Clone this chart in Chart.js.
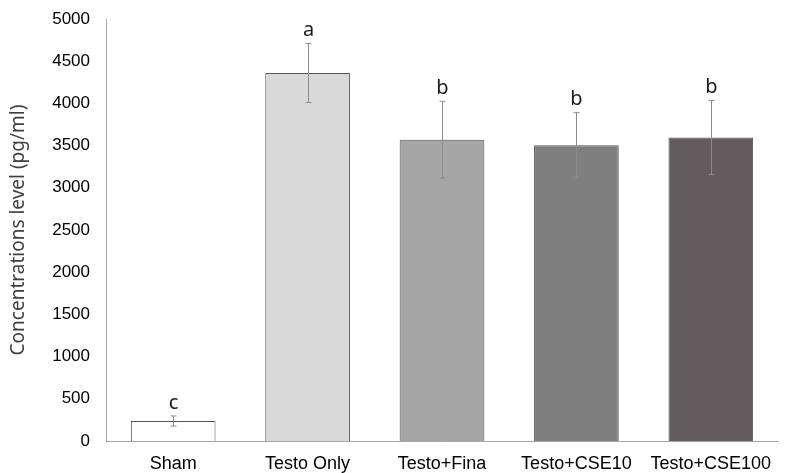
<!DOCTYPE html>
<html>
<head>
<meta charset="utf-8">
<script src="https://cdn.jsdelivr.net/npm/chart.js@4.4.0/dist/chart.umd.min.js"></script>
<style>
    html, body { margin: 0; padding: 0; background: #fff; }
    #wrap { width: 791px; height: 473px; position: relative; }
</style>
</head>
<body>
<div id="wrap"><canvas id="barChart"></canvas></div>
<script>
const groups = ['Sham', 'Testo Only', 'Testo+Fina', 'Testo+CSE10', 'Testo+CSE100'];
const means = [237, 4360, 3570, 3505, 3595];
const errors = [60, 350, 455, 385, 440];
const letters = ['c', 'a', 'b', 'b', 'b'];
const barColors = ['#ffffff', '#d9d9d9', '#a6a6a6', '#7f7f7f', '#615d5e'];
const yTicks = [0, 500, 1000, 1500, 2000, 2500, 3000, 3500, 4000, 4500, 5000];

// error bars + significance letters
const errorBarPlugin = {
    id: 'errorBars',
    afterDatasetsDraw(chart) {
        const ctx = chart.ctx;
        const meta = chart.getDatasetMeta(0);
        const y = chart.scales.y;
        ctx.save();
        meta.data.forEach((bar, i) => {
            const x = Math.round(bar.x) + 0.5;
            const top = y.getPixelForValue(means[i] + errors[i]);
            const bottom = y.getPixelForValue(means[i] - errors[i]);
            ctx.strokeStyle = '#8c8c8c';
            ctx.lineWidth = 1;
            ctx.beginPath();
            ctx.moveTo(x, top);
            ctx.lineTo(x, bottom);
            ctx.moveTo(x - 3, top);
            ctx.lineTo(x + 3, top);
            ctx.moveTo(x - 3, bottom);
            ctx.lineTo(x + 3, bottom);
            ctx.stroke();

            ctx.fillStyle = '#1a1a1a';
            ctx.font = '20px "Noto Sans"';
            ctx.textAlign = 'center';
            ctx.textBaseline = 'bottom';
            ctx.fillText(letters[i], x, top - 3);
        });
        ctx.restore();
    }
};

new Chart(document.getElementById('barChart'), {
    type: 'bar',
    data: {
        labels: groups,
        datasets: [{
            data: means,
            backgroundColor: barColors,
            borderColor: '#555555',
            borderWidth: 1,
            barPercentage: 0.63,
            categoryPercentage: 1.0
        }]
    },
    options: {
        responsive: true,
        maintainAspectRatio: false,
        animation: false,
        layout: { padding: { left: 7, right: 13, top: 19, bottom: 0 } },
        plugins: {
            legend: { display: false },
            tooltip: { enabled: false }
        },
        scales: {
            x: {
                afterFit: axis => { axis.height = 32; axis.paddingLeft = 0; axis.paddingRight = 0; },
                grid: { display: false, drawTicks: false },
                border: { color: '#a6a6a6', width: 1 },
                ticks: {
                    color: '#000',
                    font: { family: '"Liberation Sans"', size: 18 },
                    padding: 12,
                    maxRotation: 0
                }
            },
            y: {
                min: 0,
                max: 5000,
                afterBuildTicks: axis => { axis.ticks = yTicks.map(v => ({ value: v })); },
                afterFit: axis => { axis.width = 99; axis.paddingTop = 0; axis.paddingBottom = 0; },
                grid: { display: false, drawTicks: false },
                border: { color: '#a6a6a6', width: 1 },
                ticks: {
                    color: '#000',
                    font: { family: '"Liberation Sans"', size: 17 },
                    padding: 16,
                    callback: v => String(v)
                },
                title: {
                    display: true,
                    text: 'Concentrations level (pg/ml)',
                    color: '#404040',
                    font: { family: '"Noto Sans"', size: 19 },
                    padding: 0
                }
            }
        }
    },
    plugins: [errorBarPlugin]
});
</script>
</body>
</html>
